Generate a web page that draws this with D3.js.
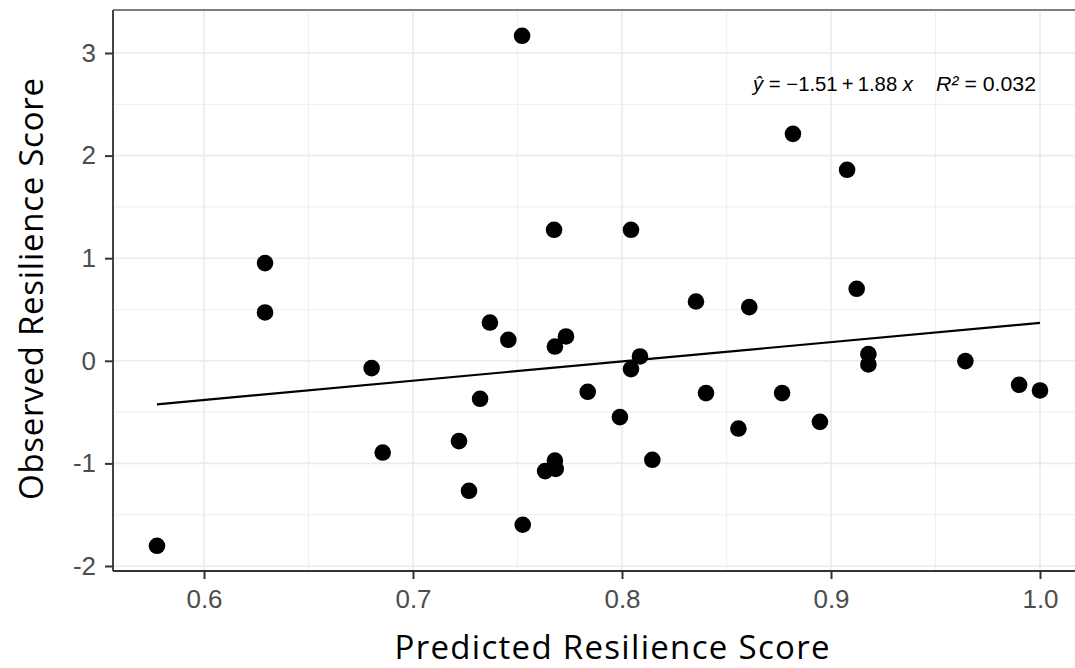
<!DOCTYPE html>
<html>
  <head>
    <meta charset="utf-8">
    <title>Predicted vs Observed Resilience</title>
    <script src="https://cdn.jsdelivr.net/npm/d3@7/dist/d3.min.js"></script>
    <style>
      body { margin: 0; background: #fff; }
      svg { display: block; }
    </style>
  </head>
  <body>
    <script>
      // values
      var predicted = [0.5775, 0.6292, 0.6292, 0.6802, 0.6855, 0.7220, 0.7268, 0.7321, 0.7368, 0.7456,
                       0.7522, 0.7525, 0.7632, 0.7675, 0.7679, 0.7679, 0.7683, 0.7732, 0.7836, 0.7990,
                       0.8043, 0.8043, 0.8086, 0.8145, 0.8354, 0.8402, 0.8557, 0.8609, 0.8766, 0.8818,
                       0.8947, 0.9077, 0.9123, 0.9179, 0.9179, 0.9643, 0.9900, 1.0000];
      var observed  = [-1.803, 0.952, 0.471, -0.071, -0.894, -0.783, -1.267, -0.370, 0.373, 0.205,
                       3.168, -1.598, -1.075, 1.277, 0.139, -0.972, -1.053, 0.237, -0.302, -0.549,
                       1.277, -0.081, 0.042, -0.965, 0.578, -0.315, -0.660, 0.523, -0.315, 2.212,
                       -0.595, 1.862, 0.702, 0.065, -0.036, -0.003, -0.234, -0.289];
      var xTicks = [0.6, 0.7, 0.8, 0.9, 1.0];
      var yTicks = [-2, -1, 0, 1, 2, 3];
      var xMinor = [0.65, 0.75, 0.85, 0.95];
      var yMinor = [-1.5, -0.5, 0.5, 1.5, 2.5];
      var fitCoef = [-1.51, 1.88];   // intercept, slope
      var rSquared = "0.032";

      var W = 1075, H = 668;
      var panel = {left: 113, top: 10, right: 1075, bottom: 571};

      var svg = d3.select("body").append("svg")
                  .attr("width", W)
                  .attr("height", H);

      var x = d3.scaleLinear().domain([0.6, 1.0]).range([204, 1040]);
      var y = d3.scaleLinear().domain([-2, 3]).range([566, 53]);

      // grid
      var grid = svg.append("g");
      grid.selectAll("line.xminor").data(xMinor).enter().append("line")
          .attr("x1", x).attr("x2", x)
          .attr("y1", panel.top).attr("y2", panel.bottom)
          .attr("stroke", "#f0f0f0").attr("stroke-width", 1.2);
      grid.selectAll("line.yminor").data(yMinor).enter().append("line")
          .attr("x1", panel.left).attr("x2", panel.right)
          .attr("y1", y).attr("y2", y)
          .attr("stroke", "#f0f0f0").attr("stroke-width", 1.2);
      grid.selectAll("line.xmajor").data(xTicks).enter().append("line")
          .attr("x1", x).attr("x2", x)
          .attr("y1", panel.top).attr("y2", panel.bottom)
          .attr("stroke", "#ebebeb").attr("stroke-width", 1.6);
      grid.selectAll("line.ymajor").data(yTicks).enter().append("line")
          .attr("x1", panel.left).attr("x2", panel.right)
          .attr("y1", y).attr("y2", y)
          .attr("stroke", "#ebebeb").attr("stroke-width", 1.6);

      // regression line
      var xr = d3.extent(predicted);
      svg.append("line")
         .attr("x1", x(xr[0])).attr("y1", y(fitCoef[0] + fitCoef[1] * xr[0]))
         .attr("x2", x(xr[1])).attr("y2", y(fitCoef[0] + fitCoef[1] * xr[1]))
         .attr("stroke", "#000").attr("stroke-width", 2.2);

      // points
      svg.selectAll("circle").data(predicted).enter().append("circle")
         .attr("cx", function(d){ return x(d); })
         .attr("cy", function(d, i){ return y(observed[i]); })
         .attr("r", 8.3)
         .attr("fill", "#000");

      // panel border + axis lines
      svg.append("line").attr("x1", panel.left).attr("x2", panel.right)
         .attr("y1", panel.top).attr("y2", panel.top)
         .attr("stroke", "#555").attr("stroke-width", 1.6);
      svg.append("line").attr("x1", panel.left).attr("x2", panel.left)
         .attr("y1", panel.top).attr("y2", panel.bottom)
         .attr("stroke", "#444").attr("stroke-width", 2);
      svg.append("line").attr("x1", panel.left).attr("x2", panel.right)
         .attr("y1", panel.bottom).attr("y2", panel.bottom)
         .attr("stroke", "#333").attr("stroke-width", 2.2);

      // axes
      var xAxis = d3.axisBottom(x).tickValues(xTicks)
                    .tickFormat(d3.format(".1f")).tickSize(8).tickSizeOuter(0).tickPadding(11);
      var gx = svg.append("g").attr("transform", "translate(0," + panel.bottom + ")").call(xAxis);
      var yAxis = d3.axisLeft(y).tickValues(yTicks)
                    .tickFormat(function(d){ return String(d); }).tickSize(8).tickSizeOuter(0).tickPadding(9);
      var gy = svg.append("g").attr("transform", "translate(" + panel.left + ",0)").call(yAxis);

      [gx, gy].forEach(function(g){
        g.select(".domain").remove();
        g.selectAll(".tick line").attr("stroke", "#333").attr("stroke-width", 2);
        g.selectAll(".tick text")
         .attr("fill", "#4d4d4d")
         .style("font-family", "'Liberation Sans', Arial, sans-serif")
         .style("font-size", "26px");
      });

      // axis titles
      svg.append("text")
         .attr("x", 612).attr("y", 659)
         .attr("text-anchor", "middle")
         .style("font-family", "'Open Sans', 'Noto Sans', sans-serif")
         .style("font-size", "33px")
         .attr("fill", "#000")
         .attr("textLength", 435).attr("lengthAdjust", "spacing")
         .text("Predicted Resilience Score");
      svg.append("text")
         .attr("transform", "translate(43,289) rotate(-90)")
         .attr("text-anchor", "middle")
         .style("font-family", "'Open Sans', 'Noto Sans', sans-serif")
         .style("font-size", "33px")
         .attr("fill", "#000")
         .attr("textLength", 422).attr("lengthAdjust", "spacing")
         .text("Observed Resilience Score");

      // equation label, in two pieces
      var eqFont = "'Liberation Sans', Arial, sans-serif";
      var eq1 = svg.append("text")
         .attr("x", 753).attr("y", 91)
         .style("font-family", eqFont)
         .style("font-size", "20px")
         .attr("fill", "#000");
      eq1.append("tspan").style("font-style", "italic").text("\u0177");
      eq1.append("tspan").text(" = \u2212" + Math.abs(fitCoef[0]).toFixed(2) + "\u2009+\u2009" + fitCoef[1].toFixed(2) + " ");
      eq1.append("tspan").style("font-style", "italic").text("x");
      eq1.attr("textLength", 160).attr("lengthAdjust", "spacingAndGlyphs");

      var eq2 = svg.append("text")
         .attr("x", 936).attr("y", 91)
         .style("font-family", eqFont)
         .style("font-size", "21px")
         .attr("fill", "#000");
      eq2.append("tspan").style("font-style", "italic").text("R\u00B2");
      eq2.append("tspan").text(" = " + rSquared);
      eq2.attr("textLength", 100).attr("lengthAdjust", "spacingAndGlyphs");
    </script>
  </body>
</html>
